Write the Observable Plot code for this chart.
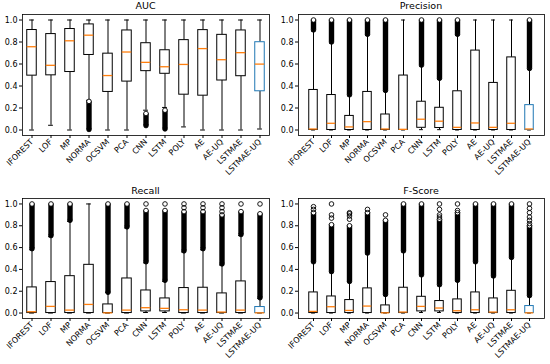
<!DOCTYPE html>
<html>
<head>
<meta charset="utf-8">
<script src="https://cdn.jsdelivr.net/npm/d3@7"></script>
<script src="https://cdn.jsdelivr.net/npm/@observablehq/plot@0.6"></script>
<style>
  html, body { margin: 0; padding: 0; background: white; }
  #root { position: relative; width: 550px; height: 364px; font-family: "DejaVu Sans", sans-serif; }
  .panel { position: absolute; }
  .title { position: absolute; font-size: 9.5px; font-weight: normal; text-align: center; width: 250px; color: black; }
</style>
</head>
<body>
<div id="root"></div>
<script>
const categories = ["IFOREST","LOF","MP","NORMA","OCSVM","PCA","CNN","LSTM","POLY","AE","AE-UQ","LSTMAE","LSTMAE-UQ"];
const yTicks = [0, 0.2, 0.4, 0.6, 0.8, 1.0];

// AUC
const aucLow  = [0, 0.043, 0, 0.27, 0, 0, 0.18, 0.205, 0.028, 0, 0, 0, 0.009];
const aucQ1   = [0.494, 0.497, 0.527, 0.682, 0.346, 0.44, 0.535, 0.511, 0.321, 0.312, 0.45, 0.489, 0.352];
const aucMed  = [0.757, 0.588, 0.811, 0.862, 0.495, 0.709, 0.615, 0.575, 0.596, 0.74, 0.639, 0.703, 0.599];
const aucQ3   = [0.909, 0.872, 0.918, 0.96, 0.694, 0.905, 0.789, 0.725, 0.817, 0.908, 0.865, 0.905, 0.798];
const aucHigh = [1, 1, 1, 1, 1, 1, 1, 1, 1, 1, 1, 1, 1];
const aucOutLo = [null, null, null, 0.005, null, null, 0.04, 0.01, null, null, null, null, null];
const aucOutHi = [null, null, null, 0.26, null, null, 0.15, 0.18, null, null, null, null, null];
const aucExtraCat = [];
const aucExtraVal = [];

// Precision
const precLow  = [0, 0, 0, 0, 0, 0, 0.003, 0.003, 0, 0, 0, 0, 0];
const precQ1   = [0, 0, 0, 0, 0, 0, 0.02, 0.018, 0, 0, 0, 0, 0];
const precMed  = [0.009, 0.061, 0.028, 0.076, 0.009, 0.006, 0.098, 0.08, 0.024, 0.064, 0.024, 0.061, 0.009];
const precQ3   = [0.364, 0.318, 0.128, 0.346, 0.141, 0.495, 0.257, 0.202, 0.352, 0.722, 0.428, 0.66, 0.226];
const precHigh = [0.9, 0.79, 0.31, 0.86, 0.35, 1, 0.58, 0.46, 0.86, 1, 1, 1, 0.55];
const precOutLo = [0.91, 0.8, 0.32, 0.87, 0.36, null, 0.59, 0.47, 0.87, null, null, null, 0.56];
const precOutHi = [1, 1, 1, 1, 1, null, 1, 1, 1, null, null, null, 1];
const precExtraCat = [];
const precExtraVal = [];

// Recall
const recLow  = [0, 0, 0, 0, 0, 0, 0.005, 0.005, 0, 0, 0, 0, 0];
const recQ1   = [0, 0, 0, 0, 0, 0, 0.015, 0.015, 0, 0, 0, 0, 0];
const recMed  = [0.012, 0.061, 0.027, 0.079, 0.002, 0.027, 0.049, 0.043, 0.03, 0.027, 0.009, 0.027, 0.002];
const recQ3   = [0.235, 0.284, 0.338, 0.442, 0.079, 0.317, 0.207, 0.134, 0.229, 0.232, 0.18, 0.29, 0.055];
const recHigh = [0.58, 0.7, 0.84, 1, 0.19, 0.78, 0.46, 0.29, 0.56, 0.58, 0.44, 0.71, 0.135];
const recOutLo = [0.59, 0.71, 0.85, null, 0.19, 0.79, 0.47, 0.3, 0.57, 0.59, 0.45, 0.72, 0.14];
const recOutHi = [1, 1, 1, null, 1, 1, 0.94, 0.94, 0.93, 0.93, 0.9, 0.93, 0.91];
const recExtraCat = ["CNN", "LSTM", "POLY", "POLY", "AE", "AE", "AE-UQ", "AE-UQ", "AE-UQ", "LSTMAE", "LSTMAE-UQ"];
const recExtraVal = [1.0, 1.0, 0.965, 1.0, 0.965, 1.0, 0.93, 0.965, 1.0, 1.0, 1.0];

// F-Score
const fLow  = [0, 0, 0, 0, 0, 0, 0.005, 0.005, 0, 0, 0, 0, 0];
const fQ1   = [0, 0, 0, 0, 0, 0, 0.015, 0.015, 0, 0, 0, 0, 0];
const fMed  = [0.015, 0.058, 0.024, 0.064, 0.002, 0.009, 0.061, 0.046, 0.021, 0.03, 0.009, 0.03, 0.002];
const fQ3   = [0.189, 0.152, 0.119, 0.226, 0.07, 0.232, 0.149, 0.11, 0.125, 0.189, 0.134, 0.204, 0.064];
const fHigh = [0.47, 0.37, 0.29, 0.54, 0.16, 0.56, 0.34, 0.25, 0.29, 0.46, 0.33, 0.5, 0.15];
const fOutLo = [0.47, 0.38, 0.29, 0.55, 0.17, 0.57, 0.35, 0.26, 0.3, 0.47, 0.34, 0.51, 0.16];
const fOutHi = [0.92, 0.81, 0.8, 0.92, 0.85, 1, 1, 0.86, 0.92, 1, 1, 1, 0.8];
const fExtraCat = ["IFOREST", "IFOREST", "LOF", "LOF", "LOF", "MP", "MP", "MP", "MP", "NORMA", "OCSVM", "LSTM", "LSTM", "LSTM", "LSTM", "POLY", "POLY", "LSTMAE-UQ", "LSTMAE-UQ", "LSTMAE-UQ", "LSTMAE-UQ", "LSTMAE-UQ", "LSTMAE-UQ"];
const fExtraVal = [0.95, 0.975, 0.87, 0.9, 1.0, 0.86, 0.89, 0.91, 0.92, 0.95, 0.9, 0.88, 0.9, 0.95, 1.0, 0.94, 1.0, 0.82, 0.85, 0.88, 0.92, 0.96, 1.0];

const ORANGE = "#ff7f0e";
const BLUE = "#1f77b4";
const FS = 8;

function panel(o) {
  const rows = categories.map((c, i) => ({
    cat: c, lo: o.low[i], q1: o.q1[i], med: o.med[i], q3: o.q3[i], hi: o.high[i],
    outLo: o.outLo[i], outHi: o.outHi[i]
  }));
  const outRows = rows.filter(d => d.outLo != null);
  const extra = o.extraCat.map((c, i) => ({cat: c, v: o.extraVal[i]}));
  const boxInset = 4.75;
  const capInset = 7.1;
  const R = 2.3;
  const chart = Plot.plot({
    width: 275,
    height: 182,
    marginLeft: o.ml,
    marginRight: 6,
    marginTop: o.mt,
    marginBottom: o.mb,
    style: {fontFamily: "DejaVu Sans, sans-serif", fontSize: FS + "px", color: "black", background: "white"},
    x: {type: "band", domain: categories, padding: 0, label: null},
    y: {domain: [-0.05, 1.05], label: null},
    marks: [
      Plot.ruleX(rows, {x: "cat", y1: "lo", y2: "q1", stroke: "black", strokeWidth: 1}),
      Plot.ruleX(rows, {x: "cat", y1: "q3", y2: "hi", stroke: "black", strokeWidth: 1}),
      Plot.tickY(rows, {x: "cat", y: "lo", stroke: "black", strokeWidth: 1, insetLeft: capInset, insetRight: capInset}),
      Plot.tickY(rows, {x: "cat", y: "hi", stroke: "black", strokeWidth: 1, insetLeft: capInset, insetRight: capInset}),
      Plot.barY(rows, {x: "cat", y1: "q1", y2: "q3", fill: "white",
        stroke: d => d.cat === "LSTMAE-UQ" ? BLUE : "black", strokeWidth: 1,
        insetLeft: boxInset, insetRight: boxInset}),
      Plot.tickY(rows, {x: "cat", y: "med", stroke: ORANGE, strokeWidth: 1.3, insetLeft: boxInset, insetRight: boxInset}),
      Plot.ruleX(outRows, {x: "cat", y1: "outLo", y2: "outHi", stroke: "black", strokeWidth: 2 * R + 0.8}),
      Plot.dot(outRows, {x: "cat", y: "outHi", r: R, stroke: "black", fill: "white", strokeWidth: 0.9}),
      Plot.dot(outRows, {x: "cat", y: "outLo", r: R, stroke: "black", fill: "black", strokeWidth: 0.9}),
      Plot.dot(extra, {x: "cat", y: "v", r: R, stroke: "black", fill: "none", strokeWidth: 0.9}),
      Plot.axisY({ticks: yTicks, tickFormat: d3.format(".1f"), tickSize: 3, tickPadding: 2, fontSize: FS, label: null}),
      Plot.axisX({tickRotate: -45, tickSize: 3, tickPadding: 2, fontSize: FS, label: null}),
      Plot.frame({stroke: "black", strokeWidth: 0.8})
    ]
  });
  const wrap = document.createElement("div");
  wrap.className = "panel";
  wrap.style.left = o.left + "px";
  wrap.style.top = o.top + "px";
  wrap.appendChild(chart);
  const t = document.createElement("div");
  t.className = "title";
  t.textContent = o.title;
  t.style.left = (o.left + o.ml + (275 - o.ml - 6) / 2 - 125) + "px";
  t.style.top = o.titleTop + "px";
  const root = document.getElementById("root");
  root.appendChild(wrap);
  root.appendChild(t);
}

panel({title: "AUC", low: aucLow, q1: aucQ1, med: aucMed, q3: aucQ3, high: aucHigh, outLo: aucOutLo, outHi: aucOutHi,
  extraCat: aucExtraCat, extraVal: aucExtraVal, left: 0, top: 0, ml: 22, mt: 14, mb: 47, titleTop: 0});
panel({title: "Precision", low: precLow, q1: precQ1, med: precMed, q3: precQ3, high: precHigh, outLo: precOutLo, outHi: precOutHi,
  extraCat: precExtraCat, extraVal: precExtraVal, left: 275, top: 0, ml: 23, mt: 14, mb: 47, titleTop: 0});
panel({title: "Recall", low: recLow, q1: recQ1, med: recMed, q3: recQ3, high: recHigh, outLo: recOutLo, outHi: recOutHi,
  extraCat: recExtraCat, extraVal: recExtraVal, left: 0, top: 182, ml: 22, mt: 16, mb: 46, titleTop: 185});
panel({title: "F-Score", low: fLow, q1: fQ1, med: fMed, q3: fQ3, high: fHigh, outLo: fOutLo, outHi: fOutHi,
  extraCat: fExtraCat, extraVal: fExtraVal, left: 275, top: 182, ml: 23, mt: 16, mb: 46, titleTop: 185});
</script>
</body>
</html>
